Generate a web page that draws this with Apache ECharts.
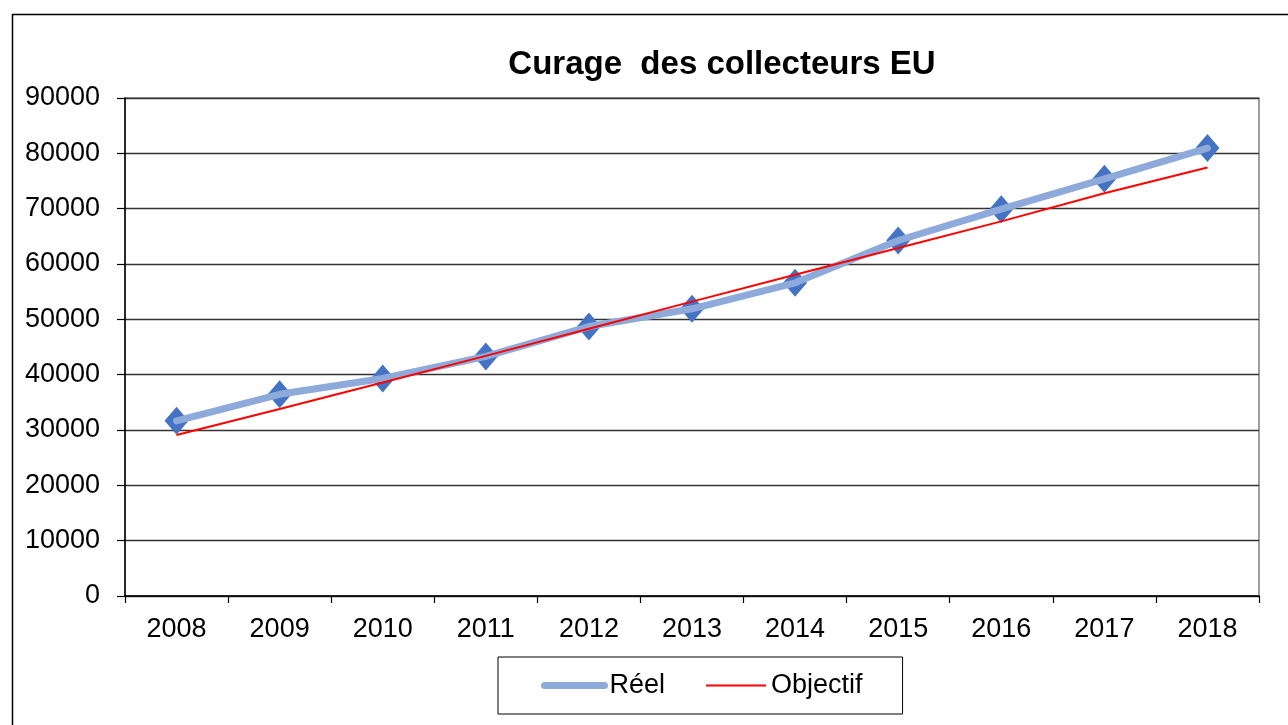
<!DOCTYPE html>
<html>
<head>
<meta charset="utf-8">
<script src="https://cdn.jsdelivr.net/npm/echarts@6/dist/echarts.min.js"></script>
<style>
html,body{margin:0;padding:0;background:#fff;}
#chart{width:1288px;height:725px;}
</style>
</head>
<body>
<div id="chart"></div>
<script>
const years = ['2008','2009','2010','2011','2012','2013','2014','2015','2016','2017','2018'];
const reel = [31650, 36450, 39300, 43300, 48700, 51900, 56600, 64250, 69900, 75400, 80950];
const objectif = [29100, 33800, 38600, 43400, 48300, 53200, 58050, 62900, 67700, 72800, 77450];
const yTicks = [0, 10000, 20000, 30000, 40000, 50000, 60000, 70000, 80000, 90000];

const FONT = '"Liberation Sans", Arial, sans-serif';
const chart = echarts.init(document.getElementById('chart'));
chart.setOption({
  backgroundColor: '#fff',
  animation: false,
  textStyle: { fontFamily: FONT },
  title: {
    text: 'Curage  des collecteurs EU',
    left: 717, textAlign: 'center', top: 43,
    textStyle: { fontFamily: FONT, fontSize: 33, fontWeight: 'bold', color: '#000' }
  },
  graphic: [{
    type: 'rect', left: 10, top: 12, z: -10,
    shape: { width: 1320, height: 800 },
    style: { fill: 'none', stroke: '#000', lineWidth: 1.5 }
  }],
  legend: {
    left: 498, top: 657,
    data: [
      { name: 'Réel', itemStyle: { opacity: 0 },
        lineStyle: { color: '#8eaadb', width: 7, cap: 'round', opacity: 1 } },
      { name: 'Objectif', itemStyle: { opacity: 0 },
        lineStyle: { color: '#ff0000', width: 2, opacity: 1 } }
    ],
    itemWidth: 60, itemHeight: 14, itemGap: 40,
    padding: [15, 40, 15, 43],
    borderColor: '#000', borderWidth: 1,
    textStyle: { fontFamily: FONT, fontSize: 27, color: '#000' }
  },
  grid: {
    left: 125, right: 29, top: 98, bottom: 129,
    show: true, borderColor: '#a0a0a0', borderWidth: 2, backgroundColor: 'transparent'
  },
  xAxis: {
    type: 'category', data: years, boundaryGap: true,
    axisLine: { lineStyle: { color: '#000', width: 1.5 } },
    axisTick: { show: true, length: 7, lineStyle: { color: '#000', width: 1.2 } },
    axisLabel: { fontFamily: FONT, fontSize: 27, color: '#000', margin: 20 }
  },
  yAxis: {
    type: 'value', min: yTicks[0], max: yTicks[yTicks.length - 1], interval: 10000,
    axisLine: { show: true, lineStyle: { color: '#000', width: 1.5 } },
    axisTick: { show: true, length: 8, lineStyle: { color: '#000', width: 1.2 } },
    axisLabel: { fontFamily: FONT, fontSize: 27, color: '#000', margin: 25,
      formatter: function (v) { return String(v); } },
    splitLine: { show: true, lineStyle: { color: '#333', width: 1.4 } }
  },
  series: [
    {
      name: 'Réel marqueurs', type: 'line', data: reel, z: 2,
      symbol: 'diamond', symbolSize: [24, 28],
      itemStyle: { color: '#4472c4' },
      lineStyle: { width: 0, opacity: 0 },
      silent: true
    },
    {
      name: 'Réel', type: 'line', data: reel, z: 3,
      symbol: 'none', showSymbol: false,
      itemStyle: { color: '#8eaadb' },
      lineStyle: { color: '#8eaadb', width: 7, cap: 'round', join: 'round' }
    },
    {
      name: 'Objectif', type: 'line', data: objectif, z: 4,
      symbol: 'none', showSymbol: false,
      itemStyle: { color: '#ff0000' },
      lineStyle: { color: '#ff0000', width: 2 }
    }
  ]
});
</script>
</body>
</html>
